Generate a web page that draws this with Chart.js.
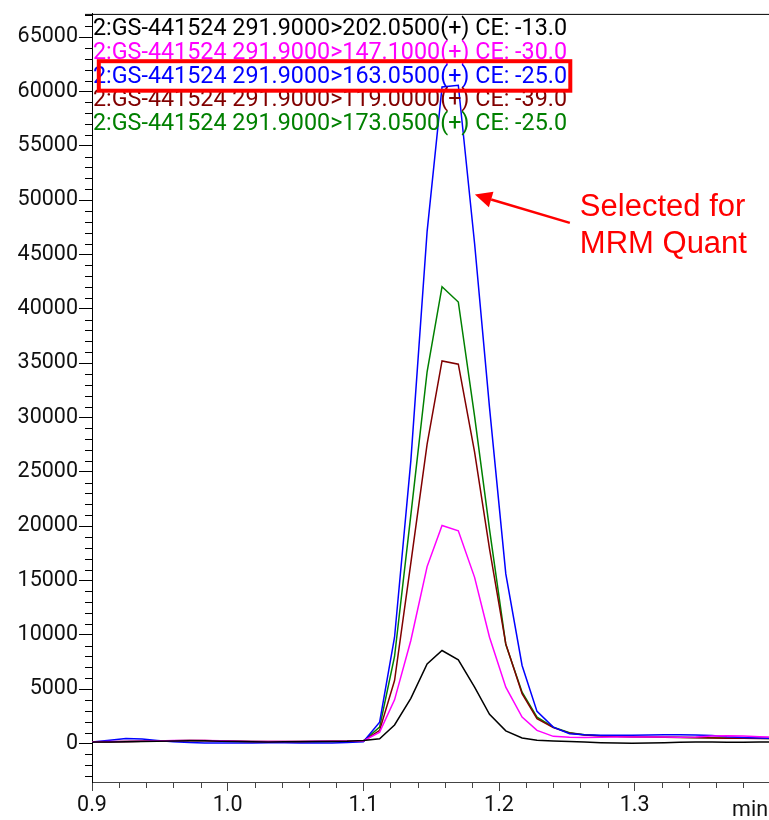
<!DOCTYPE html>
<html>
<head>
<meta charset="utf-8">
<title>GS-441524 MRM transitions</title>
<script src="https://cdn.jsdelivr.net/npm/chart.js@4.4.1/dist/chart.umd.min.js"></script>
<style>
    html, body { margin: 0; padding: 0; background: #fff; }
    #mrmChart { display: block; }
</style>
</head>
<body>
<canvas id="mrmChart" width="769" height="820"></canvas>
<script>
// retention time (min)
var times = [0.890, 0.902, 0.913, 0.925, 0.937, 0.948, 0.960, 0.972, 0.983, 0.995,
    1.007, 1.018, 1.030, 1.042, 1.053, 1.065, 1.077, 1.088, 1.100, 1.112,
    1.123, 1.135, 1.147, 1.158, 1.170, 1.182, 1.193, 1.205, 1.217, 1.228,
    1.240, 1.252, 1.263, 1.275, 1.287, 1.298, 1.310, 1.322, 1.333, 1.345,
    1.357, 1.368, 1.380, 1.392, 1.403];

var labels = [
    '2:GS-441524 291.9000>202.0500(+) CE: -13.0',
    '2:GS-441524 291.9000>147.1000(+) CE: -30.0',
    '2:GS-441524 291.9000>163.0500(+) CE: -25.0',
    '2:GS-441524 291.9000>119.0000(+) CE: -39.0',
    '2:GS-441524 291.9000>173.0500(+) CE: -25.0'
];
var colors = ['#000000', '#ff00ff', '#0000ff', '#800000', '#008000'];

var ion202 = [100, 120, 140, 150, 170, 200, 230, 250, 240, 200, 170, 150, 140, 150, 160, 170, 180, 200, 280,
    430, 1700, 4150, 7320, 8550, 7690, 5180, 2680, 1160, 500, 300, 230, 180, 120, 60, 30, 20, 30, 60, 100,
    130, 130, 110, 100, 120, 150];
var ion147 = [150, 160, 170, 180, 200, 230, 260, 280, 270, 240, 200, 180, 170, 170, 180, 190, 200, 210, 230,
    1040, 4010, 9470, 16270, 20060, 19570, 15280, 9770, 5180, 2420, 1200, 650, 560, 550, 560, 580, 600, 600, 580, 560,
    600, 680, 700, 680, 620, 580];
var ion163 = [100, 150, 300, 450, 400, 280, 150, 80, 50, 40, 40, 50, 60, 60, 50, 40, 50, 80, 150,
    1960, 9770, 26000, 47100, 60400, 60560, 46000, 30900, 15600, 7170, 2950, 1500, 900, 800, 760, 750, 760, 780, 800, 800,
    780, 720, 620, 550, 500, 480];
var ion119 = [140, 150, 160, 170, 190, 220, 250, 270, 260, 230, 200, 180, 170, 170, 170, 180, 190, 200, 210,
    1200, 5790, 16600, 27540, 35200, 34900, 26800, 17900, 9160, 4570, 2270, 1450, 950, 780, 680, 640, 600, 580, 560, 540,
    520, 500, 480, 470, 460, 450];
var ion173 = [130, 140, 150, 170, 190, 210, 240, 260, 250, 220, 190, 170, 160, 160, 170, 180, 190, 200, 220,
    1500, 8000, 21000, 34200, 42030, 40620, 30100, 19700, 9100, 4720, 2420, 1500, 980, 800, 700, 650, 620, 600, 580, 560,
    540, 520, 500, 480, 470, 460];

var series = [ion202, ion147, ion163, ion119, ion173];
var selectedIndex = 2;

var xTicks = [0.9, 1.0, 1.1, 1.2, 1.3];
var yTicks = [0, 5000, 10000, 15000, 20000, 25000, 30000, 35000, 40000, 45000, 50000, 55000, 60000, 65000];

// callout for the quant transition, in data units
var calloutTip = { x: 1.1822, y: 50500 };
var calloutTail = { x: 1.2522, y: 47900 };
var calloutText = [
    { text: 'Selected for', x: 1.2596, y: 48500 },
    { text: 'MRM Quant', x: 1.2596, y: 45150 }
];

function toPoints(values) {
    return values.map(function (v, i) { return { x: times[i], y: v }; });
}

function fixedTicks(values) {
    return function (scale) {
        scale.ticks = values.map(function (v) { return { value: v }; });
    };
}

var overlayPlugin = {
    id: 'overlay',
    afterDatasetsDraw: function (chart) {
        var c = chart.ctx;
        var area = chart.chartArea;
        var xs = chart.scales.x;
        var ys = chart.scales.y;
        c.save();

        // minor ticks
        c.lineWidth = 1;
        c.strokeStyle = '#000';
        for (var v = -3000; v <= 67000; v += 1000) {
            if (v % 5000 === 0) continue;
            var py = Math.round(ys.getPixelForValue(v)) + 0.5;
            if (py < area.top || py > area.bottom) continue;
            c.beginPath();
            c.moveTo(area.left - 7, py);
            c.lineTo(area.left, py);
            c.stroke();
        }
        c.strokeStyle = '#444';
        for (var i = 0; i <= 25; i++) {
            if (i % 5 === 0) continue;
            var px = Math.round(xs.getPixelForValue(0.9 + i * 0.02)) + 0.5;
            if (px > area.right) continue;
            c.beginPath();
            c.moveTo(px, area.bottom);
            c.lineTo(px, area.bottom + 6);
            c.stroke();
        }

        // top frame line
        c.strokeStyle = '#000';
        c.beginPath();
        c.moveTo(area.left - 7, area.top + 0.5);
        c.lineTo(area.right, area.top + 0.5);
        c.stroke();

        // axis unit
        c.fillStyle = '#111';
        c.font = '21.5px Roboto';
        c.textAlign = 'right';
        c.textBaseline = 'alphabetic';
        c.fillText('min', chart.width - 1, 816);

        // transition labels
        c.textAlign = 'left';
        c.font = '23.5px Roboto';
        chart.data.datasets.forEach(function (ds, k) {
            c.fillStyle = ds.borderColor;
            c.fillText(ds.label, area.left + 1, area.top + 21 + k * 23.8, 474);
        });

        // box round the selected transition
        var by = area.top + 21 + selectedIndex * 23.8;
        c.strokeStyle = '#ff0000';
        c.lineWidth = 4;
        c.strokeRect(area.left + 6.8, by - 21.3, 471.5, 29.5);

        // arrow and note
        var tx = xs.getPixelForValue(calloutTip.x), ty = ys.getPixelForValue(calloutTip.y);
        var sx = xs.getPixelForValue(calloutTail.x), sy = ys.getPixelForValue(calloutTail.y);
        var dx = sx - tx, dy = sy - ty;
        var len = Math.sqrt(dx * dx + dy * dy);
        dx /= len; dy /= len;
        var bx = tx + dx * 17, byy = ty + dy * 17;
        c.lineWidth = 2.5;
        c.beginPath();
        c.moveTo(sx, sy);
        c.lineTo(bx, byy);
        c.stroke();
        c.fillStyle = '#ff0000';
        c.beginPath();
        c.moveTo(tx, ty);
        c.lineTo(bx - dy * 8, byy + dx * 8);
        c.lineTo(bx + dy * 8, byy - dx * 8);
        c.closePath();
        c.fill();

        c.font = '31px "Liberation Sans", Arial, sans-serif';
        calloutText.forEach(function (t) {
            c.fillText(t.text, xs.getPixelForValue(t.x), ys.getPixelForValue(t.y));
        });
        c.restore();
    }
};

document.addEventListener('DOMContentLoaded', function () {
    var ctx = document.getElementById('mrmChart').getContext('2d');
    var mrmChart = new Chart(ctx, {
        type: 'line',
        data: {
            datasets: series.map(function (values, k) {
                return {
                    label: labels[k],
                    data: toPoints(values),
                    borderColor: colors[k],
                    borderWidth: 1.5,
                    pointRadius: 0,
                    tension: 0,
                    fill: false
                };
            })
        },
        options: {
            responsive: false,
            animation: false,
            layout: { padding: { top: 12, right: 0, bottom: 0, left: 0 } },
            scales: {
                x: {
                    type: 'linear',
                    min: 0.9,
                    max: 1.399,
                    afterBuildTicks: fixedTicks(xTicks),
                    afterFit: function (scale) { scale.height = 38; },
                    border: { color: '#444', width: 1 },
                    grid: { drawOnChartArea: false, drawTicks: true, tickLength: 9, color: '#444' },
                    ticks: {
                        maxRotation: 0,
                        autoSkip: false,
                        padding: 2,
                        color: '#111',
                        font: { family: 'Roboto', size: 21.5 },
                        callback: function (value) { return value.toFixed(1); }
                    }
                },
                y: {
                    min: -3550,
                    max: 67130,
                    afterBuildTicks: fixedTicks(yTicks),
                    afterFit: function (scale) { scale.width = 92; },
                    border: { color: '#000', width: 1 },
                    grid: { drawOnChartArea: false, drawTicks: true, tickLength: 13, color: '#000' },
                    ticks: {
                        autoSkip: false,
                        padding: 1,
                        color: '#111',
                        font: { family: 'Roboto', size: 21.5 },
                        callback: function (value) { return String(value); }
                    }
                }
            },
            plugins: {
                legend: { display: false },
                tooltip: { enabled: false }
            }
        },
        plugins: [overlayPlugin]
    });
});
</script>
</body>
</html>
